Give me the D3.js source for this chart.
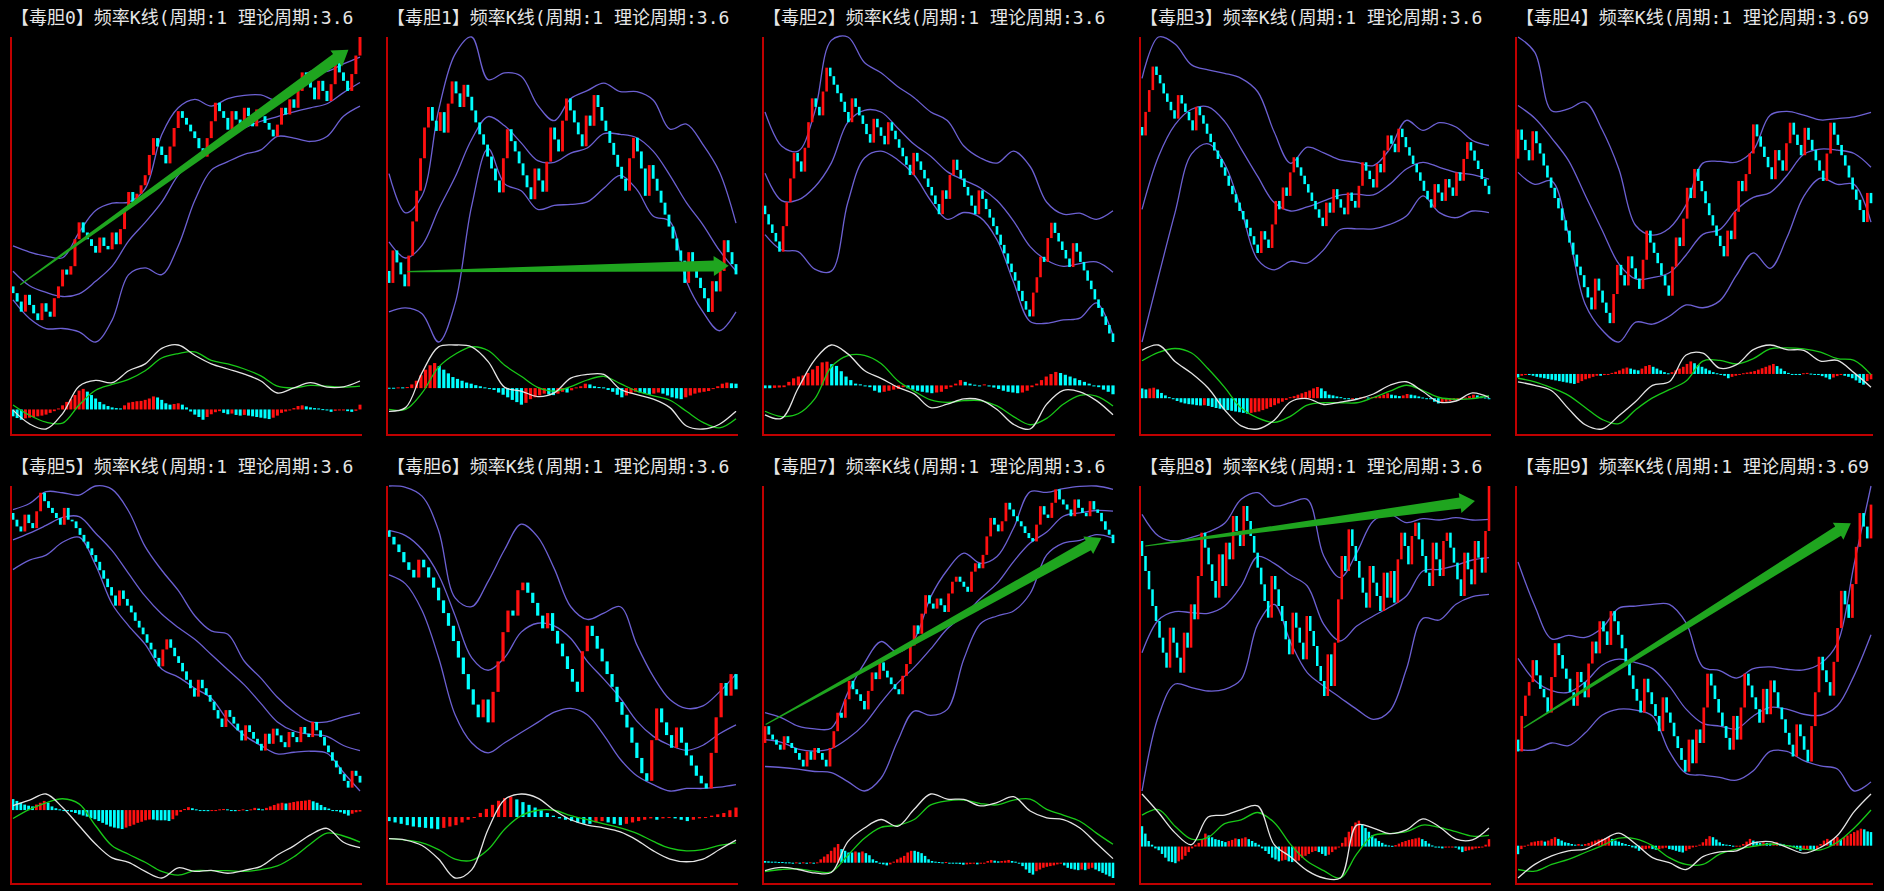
<!DOCTYPE html>
<html><head><meta charset="utf-8">
<script src="https://cdn.jsdelivr.net/npm/d3@7"></script>
<style>html,body{margin:0;padding:0;background:#000;overflow:hidden}</style>
</head><body>
<svg id="c" width="1884" height="891"></svg>
<script>
const titles = [
"【毒胆0】频率K线(周期:1 理论周期:3.6","【毒胆1】频率K线(周期:1 理论周期:3.6","【毒胆2】频率K线(周期:1 理论周期:3.6","【毒胆3】频率K线(周期:1 理论周期:3.6","【毒胆4】频率K线(周期:1 理论周期:3.69",
"【毒胆5】频率K线(周期:1 理论周期:3.6","【毒胆6】频率K线(周期:1 理论周期:3.6","【毒胆7】频率K线(周期:1 理论周期:3.6","【毒胆8】频率K线(周期:1 理论周期:3.6","【毒胆9】频率K线(周期:1 理论周期:3.69"];

// price path per panel: first value = first open, then successive closes (each candle opens at previous close)
const paths = [
[250,230,205,175,225,195,170,150,200,175,160,215,250,300,285,310,390,440,410,390,370,350,395,370,360,410,375,420,480,530,500,525,550,580,640,690,665,640,615,665,720,770,750,730,710,690,660,635,690,740,795,770,750,715,770,745,720,780,755,725,775,755,735,715,695,730,780,760,805,780,830,885,865,840,805,860,830,800,850,920,885,860,830,880,935,990],
[290,255,350,315,280,245,335,435,525,620,710,770,730,700,755,695,780,845,810,770,835,800,760,725,690,660,625,590,555,520,620,705,670,640,605,570,535,500,590,555,522,610,710,675,640,730,795,760,725,690,655,745,715,805,770,730,700,665,630,595,560,525,620,680,640,590,510,600,560,525,490,455,420,385,350,320,255,345,300,270,240,210,170,260,230,290,380,345,310,280],
[480,455,425,400,375,345,420,490,560,635,610,580,650,725,795,770,745,815,885,860,835,810,785,755,725,795,770,745,720,690,665,735,710,685,660,725,700,675,650,625,600,570,635,610,585,560,535,510,485,455,525,500,570,615,585,560,535,510,480,455,525,500,470,445,420,395,365,340,310,285,260,230,200,175,155,225,270,330,315,385,430,400,375,350,325,300,370,345,315,290,260,235,205,180,155,130,105,80],
[715,690,760,825,895,870,845,815,790,765,740,810,785,760,735,705,775,750,725,695,670,645,620,595,570,540,515,490,465,440,415,390,365,340,405,380,355,425,495,470,535,510,580,625,595,570,545,520,495,470,445,420,490,460,530,500,475,455,520,495,475,540,610,585,560,535,605,580,645,690,665,640,710,685,655,630,605,580,555,525,500,475,545,520,495,560,535,510,580,555,620,670,645,615,590,560,540,515],
[635,720,690,660,630,715,680,650,615,580,550,520,490,455,425,390,355,320,295,260,230,195,285,250,215,185,155,240,325,295,265,350,315,285,255,340,425,390,360,330,295,265,235,320,405,380,460,550,520,605,570,540,505,470,440,410,380,350,425,400,480,570,540,590,650,735,700,670,640,610,575,660,630,600,680,740,705,675,645,725,690,660,630,600,570,650,740,705,675,645,615,580,545,515,485,450,535,505],
[875,855,835,820,870,845,830,880,935,910,890,875,860,840,890,855,850,830,810,790,770,750,730,705,680,655,630,600,645,620,600,580,555,535,515,490,470,445,420,470,500,475,450,430,405,380,355,330,380,355,335,315,290,265,240,290,270,250,230,200,245,225,205,190,170,220,190,235,215,195,180,225,210,195,240,220,210,255,230,210,185,165,140,120,100,80,60,110,95,75],
[255,250,244,238,230,224,218,232,226,218,210,200,190,180,168,155,142,130,118,108,122,104,128,152,175,192,188,208,214,206,198,188,178,190,176,166,156,146,136,128,160,180,172,162,152,142,132,120,110,100,88,76,64,58,90,115,104,94,84,100,88,78,70,62,56,52,80,108,135,125,142,130],
[210,260,235,220,205,190,230,210,195,180,160,140,185,160,195,180,160,140,195,245,300,285,340,395,370,355,335,310,365,420,400,450,425,405,385,370,355,410,445,500,560,535,595,650,625,610,640,620,600,655,690,705,690,675,660,720,745,730,770,825,880,860,840,870,925,905,885,870,855,835,820,810,860,915,890,880,925,965,935,920,905,885,935,910,895,885,930,905,895,870,845,830,805],
[815,770,725,670,620,575,525,480,435,555,510,465,420,540,495,625,580,710,840,795,745,695,645,775,680,810,760,890,845,800,920,875,830,780,735,685,635,585,710,670,620,575,520,475,600,555,510,460,590,545,500,440,395,350,475,380,510,640,770,725,850,800,755,705,660,615,740,690,650,605,720,645,725,630,760,840,800,745,830,870,820,770,720,680,810,760,710,815,840,795,750,700,650,780,730,685,815,765,720,845,980],
[230,195,300,360,400,465,420,380,355,310,415,515,480,440,410,370,330,430,400,355,455,520,485,580,550,510,610,580,540,500,460,420,380,345,310,410,370,335,300,255,355,310,280,240,205,170,135,230,160,260,220,325,425,390,350,310,270,235,200,300,230,325,425,390,355,320,280,380,305,405,370,325,290,250,215,180,275,240,200,165,270,370,475,435,400,360,460,560,670,630,590,690,800,900,860,825,925]
];

// Bollinger bands, 22 evenly spaced readings across each panel
const upper = [
[370,352,340,335,410,475,497,500,540,700,780,805,785,807,817,818,802,838,888,888,910,930],
[575,460,510,760,925,975,850,870,860,775,730,795,818,840,815,815,790,705,720,660,580,430],
[755,655,640,755,965,975,900,870,830,797,755,730,655,620,605,640,595,490,455,458,440,465],
[860,983,962,900,885,875,860,820,700,607,655,638,617,610,600,650,735,705,728,715,675,660],
[990,945,775,780,800,720,605,440,412,432,500,622,627,625,660,762,773,762,748,752,757,770],
[885,903,938,935,928,955,945,880,775,705,645,570,525,515,435,385,328,285,255,255,270,282],
[290,289,282,255,202,195,215,240,260,250,225,195,185,190,195,165,140,122,115,117,128,142],
[300,285,260,252,254,360,448,512,480,518,645,725,775,745,765,850,958,956,967,974,975,965],
[895,830,815,826,842,868,940,960,920,930,940,770,705,780,875,895,870,882,878,885,878,880],
[755,625,528,538,532,560,619,625,630,630,575,445,434,412,440,445,438,436,455,515,750,980]
];
const middle = [
[295,252,232,220,228,265,310,385,440,500,580,630,660,695,720,740,754,768,780,792,825,855],
[375,328,365,470,565,675,742,715,665,613,608,635,650,692,690,680,640,570,490,425,350,290],
[575,495,497,535,605,725,760,755,708,660,625,580,555,532,495,435,360,320,302,310,315,285],
[470,627,722,768,775,732,650,568,490,465,477,495,512,515,513,545,590,610,595,580,573,560],
[790,753,695,630,528,427,328,284,288,302,354,414,428,486,522,536,586,648,663,660,650,610],
[795,815,838,862,864,815,763,695,628,575,535,500,455,410,365,310,255,228,218,212,185,170],
[255,251,240,220,188,155,145,155,175,182,180,170,152,138,123,105,93,86,82,86,95,102],
[220,212,192,186,193,223,266,330,388,435,490,550,590,640,685,750,805,838,885,895,902,900],
[480,578,603,600,598,620,680,768,748,712,680,565,515,560,590,617,650,725,730,742,758,765],
[470,405,375,370,400,450,468,458,440,388,320,278,270,262,300,325,320,305,302,330,420,540]
];
const lower = [
[210,155,125,125,115,85,150,285,305,285,370,505,595,620,642,655,695,690,680,695,755,785],
[170,182,165,82,195,480,648,545,525,470,482,485,492,532,570,528,450,435,260,170,115,170],
[395,350,345,294,288,490,620,640,615,570,495,440,460,445,380,255,140,135,145,150,195,100],
[75,270,460,635,665,605,470,320,290,315,310,350,410,412,412,425,450,510,460,445,465,460],
[595,560,570,415,210,135,100,158,152,175,208,200,220,295,360,315,405,525,578,560,560,450],
[707,735,750,788,803,720,605,540,485,412,388,355,325,260,215,185,160,165,168,162,105,50],
[220,213,192,155,110,88,80,88,96,104,112,115,110,94,75,62,55,50,52,52,53,55],
[140,137,132,125,122,95,67,105,215,305,292,310,460,565,588,603,655,770,805,813,830,820],
[65,290,386,375,365,370,400,565,625,510,420,380,345,310,280,305,430,583,578,625,648,655],
[200,200,220,212,250,302,320,317,300,195,130,125,118,110,138,195,195,168,152,143,78,105]
];

// MACD-style indicator: two lines (22 readings each), histogram around a zero level
const dif = [
[70,30,15,60,140,157,150,185,205,250,260,230,205,190,175,155,120,135,150,137,138,155],
[75,85,180,250,255,250,210,140,130,115,125,165,175,175,135,120,108,85,35,27,40,75],
[65,55,140,220,262,237,190,168,143,124,85,95,110,107,80,38,25,95,134,130,105,65],
[240,255,208,174,132,70,24,15,40,93,102,85,92,100,115,140,150,122,92,95,118,105],
[150,140,125,75,30,18,55,95,140,150,225,230,188,198,240,253,240,238,208,210,175,135],
[220,235,252,215,165,115,77,65,40,22,50,40,43,35,43,54,85,110,140,158,120,105],
[43,42,38,28,14,20,50,72,76,73,64,57,53,51,48,42,34,28,26,28,35,42],
[25,34,28,18,19,110,150,175,155,205,250,235,234,215,225,242,200,180,175,150,105,60],
[272,222,167,135,210,215,230,240,135,102,65,45,45,188,180,165,175,205,183,150,148,180],
[25,65,90,105,110,135,157,125,85,70,50,88,102,105,128,132,115,98,115,150,220,272]
];
const dea = [
[85,55,35,32,85,128,145,160,185,222,235,240,215,205,190,170,140,135,142,140,137,140],
[80,80,125,195,230,250,240,200,170,140,130,142,160,170,150,130,117,105,75,45,30,55],
[75,60,68,110,200,232,233,210,162,132,107,100,105,105,90,60,37,55,95,120,118,90],
[210,234,245,232,187,134,75,47,34,52,83,90,90,90,105,123,140,125,105,100,102,110],
[160,150,133,112,78,45,33,72,105,128,152,208,210,200,215,242,245,242,233,215,210,170],
[185,210,228,239,225,165,110,87,65,40,30,42,42,42,40,45,55,80,115,145,137,120],
[43,42,40,35,28,27,35,50,60,64,64,60,57,54,51,47,41,36,34,35,38,40],
[22,28,30,23,21,70,120,152,158,175,218,230,232,222,218,232,235,205,188,170,135,102],
[215,230,185,150,155,192,202,222,195,135,90,65,45,110,160,165,170,188,182,170,158,160],
[50,45,65,80,100,120,142,140,120,85,65,65,95,110,118,125,120,110,108,130,172,225]
];
const histZero = [72,138,148,103,172,208,59,48,130,120];
const hist = [
[-20,-25,-30,-26,-24,-22,-20,-18,-15,-10,-5,3,12,22,30,42,55,60,52,42,32,22,15,10,6,4,3,12,20,22,24,25,28,32,38,35,28,18,14,16,18,14,6,-6,-15,-22,-30,-22,-14,-8,-5,-10,-14,-12,-16,-18,-16,-18,-20,-22,-24,-26,-28,-24,-18,-10,-6,-3,4,10,12,9,6,4,3,1,-2,-7,-4,-3,-2,-5,-7,-4,14],
[1,1,2,2,3,10,20,35,50,62,68,60,50,40,30,25,20,15,12,8,5,2,0,-5,-12,-18,-25,-32,-38,-45,-40,-30,-25,-20,-15,-17,-19,-15,-10,-12,-6,2,5,12,10,5,3,2,-5,-10,-18,-25,-20,-15,-10,-12,-15,-18,-15,-12,-15,-20,-25,-28,-30,-25,-20,-15,-12,-10,-8,-2,5,12,15,13,12],
[-8,-8,-7,-6,-5,10,20,25,28,35,45,55,65,67,60,55,40,25,15,5,3,0,-5,-15,-20,-18,-15,-12,-10,-5,-8,-12,-15,-18,-20,-22,-20,-18,-10,-5,5,15,10,5,2,0,3,-3,-6,-10,-15,-18,-20,-22,-20,-15,-5,5,15,25,32,38,35,30,25,20,15,10,5,0,-5,-12,-18,-25],
[28,25,28,30,25,15,8,3,-3,-8,-12,-15,-17,-18,-20,-21,-20,-22,-25,-28,-30,-32,-34,-36,-38,-40,-42,-44,-42,-40,-38,-34,-30,-25,-20,-15,-10,-5,3,6,10,14,18,22,28,32,28,20,10,8,5,3,-2,-3,-2,-2,2,3,2,3,4,6,10,14,10,8,6,8,12,10,8,5,2,0,-3,-10,-15,-12,-10,-8,-6,-4,-2,2,6,10,8,5,2,-3],
[-10,-5,-3,-3,-5,-8,-10,-12,-14,-16,-18,-20,-22,-24,-26,-28,-25,-20,-15,-12,-8,-5,-5,-3,0,3,6,10,15,18,15,12,10,15,22,25,20,15,10,5,2,5,10,15,20,28,35,30,25,20,15,10,5,2,-2,-5,-12,-8,-5,-2,2,4,6,8,12,16,20,24,28,22,15,8,3,0,-2,-3,2,3,1,-2,-3,-6,-10,-15,-10,-6,-3,-5,-8,-12,-18,-25,-30,-20,-15],
[30,25,20,15,12,10,15,20,25,20,10,5,2,-2,-3,-5,-8,-12,-15,-18,-22,-25,-30,-35,-40,-45,-48,-50,-52,-48,-44,-40,-35,-32,-28,-26,-26,-28,-28,-28,-30,-25,-15,-5,3,8,5,2,0,-2,-3,-2,0,2,3,2,-2,-3,0,2,-2,2,6,4,2,6,10,14,18,20,18,20,22,24,25,26,28,24,20,14,8,4,0,-3,-6,-10,-15,-10,-6,-4],
[-3,-4,-5,-6,-7,-7.5,-8,-8.5,-9,-8,-7,-6,-4,-2,0,3,6,9,12,14,15,13,11,9,7,5,3,1,-1,-2,-3,-4,-5,-5,-4,-3,-4,-5,-6,-5,-4,-3,-2,-1,-2,-1,0,-1,-2,-3,-2,-1,0,1,2,3,5,7],
[5,4,3,3,2,2,1,1,-1,1,-1,1,-1,1,0,1,10,18,25,35,45,55,40,35,30,30,33,30,33,28,22,10,5,-3,-5,-8,-5,3,10,15,20,30,35,35,32,28,20,10,5,3,2,1,2,0,-2,-3,-4,-6,-5,-4,-2,-5,-3,0,5,8,6,4,5,6,8,5,3,0,-10,-20,-30,-35,-25,-20,-15,-12,-10,-8,-5,-3,-8,-15,-18,-20,-22,-20,-22,-18,-15,-20,-25,-30,-35,-40,-45],
[55,35,15,5,-5,-10,-20,-30,-40,-42,-45,-40,-35,-25,-15,-5,5,10,20,35,30,25,20,18,15,12,15,18,22,20,22,25,20,15,10,5,-5,-12,-20,-30,-35,-40,-38,-36,-40,-42,-40,-38,-30,-25,-20,-15,-12,-15,-20,-25,-22,-15,-8,0,10,25,40,55,65,70,60,50,40,30,22,15,10,5,3,2,4,8,12,15,18,20,22,24,20,15,8,3,0,-3,-5,-3,-2,0,-3,-8,-15,-12,-10,-8,-5,-4,-2,5,20],
[-25,-10,-3,3,10,12,14,15,12,15,20,25,20,15,10,8,5,3,5,3,5,8,12,15,18,20,22,25,20,15,12,8,5,2,-5,-8,-15,-12,-10,-8,-10,-12,-10,-8,-6,-10,-12,-15,-18,-20,-15,-10,-5,-3,3,10,20,28,25,18,10,5,3,2,-3,-2,0,5,12,20,15,12,8,10,8,6,8,10,6,4,2,-3,-5,-10,-15,-12,-10,-12,-15,-10,5,15,20,15,20,25,18,25,30,35,40,45,50,48,42,40]
];

// trend arrows: [panel, start reading index (0-21), start value, end index, end value]
const arrows = [
[0, 0.44, 255, 20.3, 952],
[1, 1.1, 288, 20.56, 305],
[7, 0.04, 265, 20.3, 820],
[8, 0.2, 800, 20.15, 935],
[9, 0.34, 265, 19.8, 870]
];

const svg = d3.select('#c');
svg.append('rect').attr('width',1884).attr('height',891).attr('fill','#000');
const colLeft = [11, 387, 763, 1140, 1516];
const colRight = [362, 738, 1115, 1491, 1873];
const rowH = 449;
const RED = '#ff1010', CYAN = '#00ffff', BAND = '#6c60d2', AXIS = '#c00000';

const scales = [];
for (let p = 0; p < 10; p++) {
  const c = p % 5, r = Math.floor(p / 5);
  const top = r * rowH;
  const L = colLeft[c], R = colRight[c];
  const g = svg.append('g');
  const path = paths[p];
  const n = path.length - 1;
  const x = d3.scaleLinear().domain([0, n - 1]).range([L + 2, R - 2]);
  const xs = d3.scaleLinear().domain([0, 21]).range([L + 2, R - 2]);
  const y = d3.scaleLinear()
    .domain(d3.extent(path.concat(upper[p], middle[p], lower[p])))
    .range([top + 342, top + 37]);
  scales[p] = {xs, y};

  // title
  g.append('text').attr('x', L).attr('y', top + 17)
    .attr('dominant-baseline', 'central')
    .attr('font-family', '"DejaVu Sans Mono", "Noto Sans CJK SC", monospace')
    .attr('font-size', 18).attr('fill', '#e6e6e6')
    .text(titles[p]);

  // bands
  const bandLine = d3.line().x((d, k) => xs(k)).y(d => y(d)).curve(d3.curveCatmullRom.alpha(0.5));
  [upper[p], middle[p], lower[p]].forEach(b => {
    g.append('path').attr('d', bandLine(b)).attr('fill', 'none')
      .attr('stroke', BAND).attr('stroke-width', 1.3);
  });

  // candles
  const step = (R - L - 4) / (n - 1);
  const cw = Math.max(2, Math.min(3.2, step * 0.72));
  const candles = d3.range(n).map(i => ({i, o: path[i], c: path[i + 1]}));
  g.selectAll('rect.k').data(candles).enter().append('rect')
    .attr('x', d => x(d.i) - cw / 2)
    .attr('y', d => y(Math.max(d.o, d.c)))
    .attr('width', cw)
    .attr('height', d => Math.max(1, Math.abs(y(d.o) - y(d.c))))
    .attr('fill', d => d.c > d.o ? RED : CYAN);

  // indicator
  const hz = histZero[p], h = hist[p];
  const ym = d3.scaleLinear()
    .domain(d3.extent(dif[p].concat(dea[p], h.map(v => hz + v), [hz])))
    .range([top + 429, top + 345]);
  const xh = d3.scaleLinear().domain([0, h.length - 1]).range([L + 2, R - 2]);
  const hstep = (R - L - 4) / (h.length - 1);
  const hw = Math.max(2, Math.min(3.2, hstep * 0.72));
  g.selectAll('rect.h').data(h).enter().append('rect')
    .attr('x', (d, i) => xh(i) - hw / 2)
    .attr('y', d => ym(Math.max(hz, hz + d)))
    .attr('width', hw)
    .attr('height', d => Math.max(1, Math.abs(ym(hz + d) - ym(hz))))
    .attr('fill', (d, i) => (i > 0 && d > h[i - 1]) ? RED : CYAN);
  const mLine = d3.line().x((d, k) => xs(k)).y(d => ym(d)).curve(d3.curveCatmullRom.alpha(0.5));
  g.append('path').attr('d', mLine(dea[p])).attr('fill', 'none').attr('stroke', '#18c818').attr('stroke-width', 1.3);
  g.append('path').attr('d', mLine(dif[p])).attr('fill', 'none').attr('stroke', '#e4e4e4').attr('stroke-width', 1.3);

  // axes
  g.append('line').attr('x1', L).attr('x2', L).attr('y1', top + 37).attr('y2', top + 436)
    .attr('stroke', AXIS).attr('stroke-width', 2);
  g.append('line').attr('x1', L).attr('x2', R).attr('y1', top + 435).attr('y2', top + 435)
    .attr('stroke', AXIS).attr('stroke-width', 2);
}

// arrows
arrows.forEach(([p, k0, v0, k1, v1]) => {
  const {xs, y} = scales[p];
  const sx = xs(k0), sy = y(v0), tx = xs(k1), ty = y(v1);
  const dx = tx - sx, dy = ty - sy, len = Math.hypot(dx, dy);
  const ux = dx / len, uy = dy / len, nx = -uy, ny = ux;
  const headLen = 15, headW = 10, shaftW = 5.5, startW = 0.6;
  const bx = tx - ux * headLen, by = ty - uy * headLen;
  const pts = [
    [sx + nx * startW, sy + ny * startW],
    [bx + nx * shaftW, by + ny * shaftW],
    [bx + nx * headW, by + ny * headW],
    [tx, ty],
    [bx - nx * headW, by - ny * headW],
    [bx - nx * shaftW, by - ny * shaftW],
    [sx - nx * startW, sy - ny * startW]
  ];
  svg.append('path').attr('d', d3.line()(pts) + 'Z').attr('fill', '#1fa51f');
});
</script>
</body></html>
